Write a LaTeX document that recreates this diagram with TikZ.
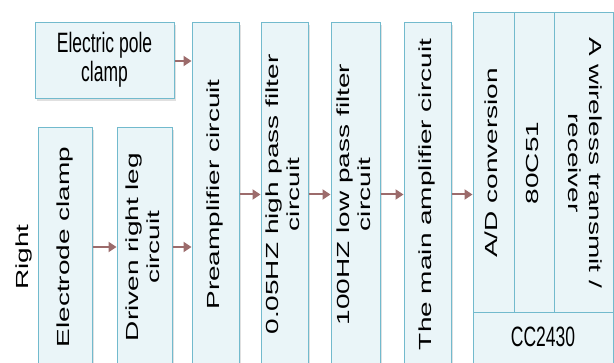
\documentclass[tikz,border=0pt]{standalone}
\usepackage{fontspec}
\setmainfont{Liberation Sans}
\usetikzlibrary{shadows,arrows.meta}
\definecolor{boxfill}{HTML}{EAF5F8}
\definecolor{boxline}{HTML}{72BACD}
\definecolor{arrcol}{HTML}{9C6B6B}
\newcommand{\vtext}[1]{\rotatebox{90}{\scalebox{1.6}[1]{\begin{tabular}{@{}c@{}}#1\end{tabular}}}}
\newcommand{\vtextcw}[1]{\rotatebox{-90}{\scalebox{1.6}[1]{\begin{tabular}{@{}c@{}}#1\end{tabular}}}}
\newcommand{\htext}[1]{\scalebox{1}[1.6]{\begin{tabular}{@{}c@{}}#1\end{tabular}}}
\tikzset{
  blk/.style={draw=boxline, line width=1pt, fill=boxfill, inner sep=0pt,
    drop shadow={shadow xshift=2pt, shadow yshift=-2pt, fill=black!30, opacity=0.4},
    font=\fontsize{17.5}{21}\selectfont},
  cell/.style={draw=boxline, line width=1pt, fill=boxfill, inner sep=0pt,
    font=\fontsize{17.5}{21}\selectfont},
  arr/.style={draw=arrcol, line width=2pt, -{Triangle[length=8pt,width=10pt]}},
}
\begin{document}
\begin{tikzpicture}[x=1pt,y=-1pt]
\useasboundingbox (0,0) rectangle (614,363);
\clip (0,0) rectangle (614,363);
% left blocks
\node[blk, minimum width=139, minimum height=76] (epc) at (104.5,61)
  {\fontsize{17.5}{18}\selectfont\htext{Electric pole\\clamp}};
\node[blk, minimum width=54, minimum height=238] (ecl) at (65,247)
  {\vtext{Electrode clamp}};
\node[blk, minimum width=55, minimum height=238] (drl) at (144.5,247)
  {\vtext{Driven right leg\\circuit}};
\node[blk, minimum width=47, minimum height=343] (pre) at (215.5,194.5)
  {\vtext{Preamplifier circuit}};
\node[blk, minimum width=47, minimum height=343] (hp) at (284.5,194.5)
  {\vtext{0.05HZ high pass filter\\circuit}};
\node[blk, minimum width=49, minimum height=343] (lp) at (355.5,194.5)
  {\vtext{100HZ low pass filter\\circuit}};
\node[blk, minimum width=47, minimum height=343] (amp) at (427.5,194.5)
  {\vtext{The main amplifier circuit}};
% right block
\node[blk, minimum width=140, minimum height=353] (cc) at (543,189.5) {};
\node[cell, minimum width=41, minimum height=300] (ad) at (493.5,163)
  {\vtext{A/D conversion}};
\node[cell, minimum width=40, minimum height=300] (c51) at (534,163)
  {\vtext{80C51}};
\node[cell, minimum width=59, minimum height=300] (wl) at (583.5,163)
  {\vtextcw{A wireless transmit /\\receiver}};
\node[cell, minimum width=140, minimum height=53] (cc2430) at (543,339.5)
  {\raisebox{3pt}{\htext{CC2430}}};
% side label
\node[font=\fontsize{17.5}{21}\selectfont] (right) at (24,257) {\vtext{Right}};
% arrows
\draw[arr] (epc.east) -- (epc.east -| pre.west);
\draw[arr] (ecl.east) -- (drl.west);
\draw[arr] (drl.east) -- (drl.east -| pre.west);
\draw[arr] (pre.east) -- (hp.west);
\draw[arr] (hp.east) -- (lp.west);
\draw[arr] (lp.east) -- (amp.west);
\draw[arr] (amp.east) -- (amp.east -| cc.west);
\end{tikzpicture}
\end{document}
